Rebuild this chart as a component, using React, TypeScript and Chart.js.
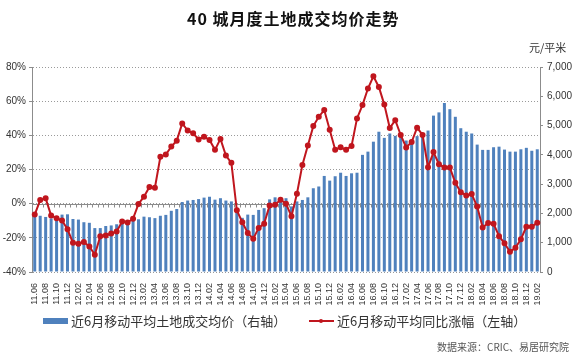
import React, { useEffect, useRef } from 'react';
import { Chart, registerables } from 'chart.js';
Chart.register(...registerables);

const months = [
  '11.06','11.07','11.08','11.09','11.10','11.11','11.12',
  '12.01','12.02','12.03','12.04','12.05','12.06','12.07','12.08','12.09','12.10','12.11','12.12',
  '13.01','13.02','13.03','13.04','13.05','13.06','13.07','13.08','13.09','13.10','13.11','13.12',
  '14.01','14.02','14.03','14.04','14.05','14.06','14.07','14.08','14.09','14.10','14.11','14.12',
  '15.01','15.02','15.03','15.04','15.05','15.06','15.07','15.08','15.09','15.10','15.11','15.12',
  '16.01','16.02','16.03','16.04','16.05','16.06','16.07','16.08','16.09','16.10','16.11','16.12',
  '17.01','17.02','17.03','17.04','17.05','17.06','17.07','17.08','17.09','17.10','17.11','17.12',
  '18.01','18.02','18.03','18.04','18.05','18.06','18.07','18.08','18.09','18.10','18.11','18.12',
  '19.01','19.02'
];

// 近6月移动平均土地成交均价（元/平米，右轴）
const avgPrice = [
  1900,1920,1880,1830,1830,1960,1970,
  1810,1790,1700,1680,1500,1500,1570,1590,1630,1740,1750,1850,
  1800,1890,1870,1840,1920,1950,2090,2150,2390,2440,2460,2490,
  2540,2570,2470,2520,2440,2410,2100,1850,1960,1950,2120,2180,
  2480,2550,2490,2520,2240,2410,2460,2550,2860,2920,3280,3120,
  3270,3390,3280,3370,3390,4000,4110,4450,4790,4580,4730,4650,
  4650,4490,4520,4640,4740,4830,5340,5450,5770,5560,5300,4910,
  4790,4730,4350,4170,4170,4260,4280,4180,4110,4110,4190,4240,
  4140,4190
];

// 近6月移动平均同比涨幅（%，左轴）
const yoyChange = [
  -6.4,2.1,3.1,-6.9,-8.5,-9.9,-15.0,
  -22.9,-23.4,-22.5,-25.0,-29.9,-19.0,-18.6,-17.5,-16.3,-10.5,-11.0,-8.8,
  -0.2,4.1,9.8,9.3,27.4,28.8,33.4,36.9,47.0,42.8,41.2,37.6,
  39.2,37.3,31.5,37.9,28.2,23.9,-3.9,-10.9,-17.1,-20.6,-14.2,-11.7,
  -1.0,-0.6,2.3,0.0,-7.4,5.8,22.7,34.0,45.4,50.9,54.8,43.3,
  31.6,33.0,31.5,33.8,49.9,57.7,67.4,74.6,68.3,58.0,44.3,48.9,
  40.2,32.9,36.1,44.5,40.2,21.3,30.2,23.1,21.1,21.1,12.2,6.7,
  4.8,5.6,-1.7,-14.0,-11.3,-11.7,-19.0,-23.2,-28.2,-25.8,-20.8,-13.5,
  -13.5,-11.1
];

const TITLE = '40 城月度土地成交均价走势';
const UNIT = '元/平米';
const BAR_LABEL = '近6月移动平均土地成交均价（右轴）';
const LINE_LABEL = '近6月移动平均同比涨幅（左轴）';
const SOURCE = '数据来源：CRIC、易居研究院';

const FONT = '"Liberation Sans", "Noto Sans CJK SC", sans-serif';
const CJK = '"Noto Sans CJK SC", "Liberation Sans", sans-serif';
const BLUE = '#4F81BD';
const RED = '#C0161E';

const zeroLinePlugin = {
  id: 'zeroLine',
  beforeDatasetsDraw(chart: any) {
    const { ctx, chartArea, scales } = chart;
    const y = Math.round(scales.yL.getPixelForValue(0)) + 0.5;
    const xs = scales.x;
    ctx.save();
    ctx.strokeStyle = '#8c8c8c';
    ctx.lineWidth = 1;
    ctx.beginPath();
    ctx.moveTo(chartArea.left, y);
    ctx.lineTo(chartArea.right, y);
    const n = months.length;
    const step = (chartArea.right - chartArea.left) / n;
    for (let i = 0; i <= n; i++) {
      const x = Math.round(xs.getPixelForValue(0) - step / 2 + i * step) + 0.5;
      ctx.moveTo(x, y);
      ctx.lineTo(x, y + 3);
    }
    ctx.stroke();
    ctx.restore();
  },
};

function ChartView() {
  const ref = useRef<HTMLCanvasElement>(null);
  useEffect(() => {
    const chart = new Chart(ref.current!, {
      type: 'bar',
      data: {
        labels: months,
        datasets: [
          {
            type: 'line',
            label: LINE_LABEL,
            data: yoyChange,
            yAxisID: 'yL',
            borderColor: RED,
            backgroundColor: RED,
            pointBackgroundColor: RED,
            pointBorderColor: RED,
            borderWidth: 2,
            pointRadius: 2,
            tension: 0,
            order: 0,
          } as any,
          {
            type: 'bar',
            label: BAR_LABEL,
            data: avgPrice,
            yAxisID: 'yR',
            backgroundColor: BLUE,
            barPercentage: 0.55,
            categoryPercentage: 1,
            order: 1,
          },
        ],
      },
      options: {
        responsive: false,
        animation: false,
        devicePixelRatio: 1,
        layout: { padding: { top: 67, bottom: 42, left: 0, right: 0 } },
        plugins: { legend: { display: false }, title: { display: false }, tooltip: { enabled: false } },
        scales: {
          x: {
            grid: { display: false },
            border: { display: false },
            ticks: {
              autoSkip: false,
              maxRotation: 90,
              minRotation: 90,
              padding: 3,
              color: '#333',
              font: { size: 9, family: FONT },
              callback: (_v: any, i: number) => (i % 2 === 0 ? months[i] : ''),
            },
            afterFit: (s: any) => { s.height = 40; },
          },
          yL: {
            position: 'left',
            min: -40,
            max: 80,
            ticks: {
              stepSize: 20,
              padding: 3,
              color: '#333',
              font: { size: 10, family: FONT },
              callback: (v: any) => v + '%',
            },
            grid: { color: '#9a9a9a', lineWidth: 1, tickLength: 3, tickColor: '#8c8c8c' },
            border: { display: true, color: '#8c8c8c', dash: [1, 2] },
            afterFit: (s: any) => { s.width = 32; },
          },
          yR: {
            position: 'right',
            min: 0,
            max: 7000,
            ticks: {
              stepSize: 1000,
              padding: 4,
              color: '#333',
              font: { size: 10, family: FONT },
            },
            grid: { drawOnChartArea: false, tickLength: 3, color: '#8c8c8c' },
            border: { display: true, color: '#8c8c8c' },
            afterFit: (s: any) => { s.width = 35; },
          },
        },
      },
      plugins: [zeroLinePlugin],
    });
    return () => chart.destroy();
  }, []);
  return <canvas ref={ref} width={575} height={354} style={{ width: 575, height: 354, display: 'block' }} />;
}

export default function App() {
  return (
    <div style={{ position: 'absolute', left: 0, top: 0, width: 575, height: 354, background: '#fff', overflow: 'hidden' }}>
      <ChartView />
      <div style={{ position: 'absolute', left: 187, top: 8, fontFamily: CJK, fontWeight: 700, fontSize: 16, letterSpacing: 1, color: '#111', whiteSpace: 'nowrap', lineHeight: '20px' }}>{TITLE}</div>
      <div style={{ position: 'absolute', left: 529, top: 40, fontFamily: CJK, fontSize: 11, color: '#333', whiteSpace: 'nowrap', lineHeight: '14px' }}>{UNIT}</div>
      <div style={{ position: 'absolute', left: 43, top: 318, width: 25, height: 6, background: BLUE }} />
      <div style={{ position: 'absolute', left: 71, top: 312, fontFamily: CJK, fontSize: 13, color: '#333', whiteSpace: 'nowrap', lineHeight: '18px' }}>{BAR_LABEL}</div>
      <div style={{ position: 'absolute', left: 309, top: 320, width: 25, height: 2, background: RED }} />
      <div style={{ position: 'absolute', left: 319, top: 319, width: 4, height: 4, borderRadius: 2, background: RED }} />
      <div style={{ position: 'absolute', left: 337, top: 312, fontFamily: CJK, fontSize: 13, color: '#333', whiteSpace: 'nowrap', lineHeight: '18px' }}>{LINE_LABEL}</div>
      <div style={{ position: 'absolute', left: 437, top: 340, fontFamily: CJK, fontSize: 10, color: '#555', whiteSpace: 'nowrap', lineHeight: '13px' }}>{SOURCE}</div>
    </div>
  );
}
